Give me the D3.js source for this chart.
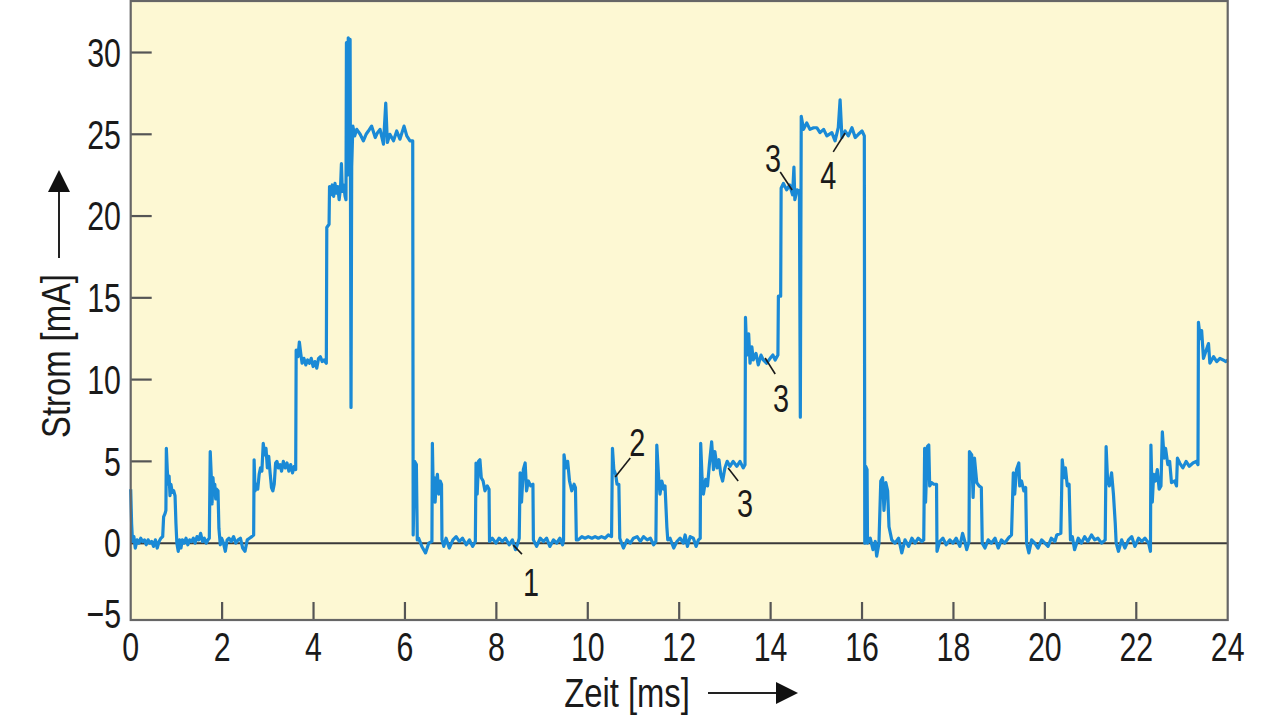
<!DOCTYPE html>
<html>
<head>
<meta charset="utf-8">
<script src="https://cdn.jsdelivr.net/npm/d3@7/dist/d3.min.js"></script>
<style>
  html, body { margin: 0; padding: 0; background: #ffffff; }
  svg { display: block; }
  text { font-family: "Liberation Sans Narrow", "Liberation Sans", "DejaVu Sans", sans-serif; fill: #1a1a1a; }
</style>
</head>
<body>
<svg id="chart" width="1280" height="721"></svg>
<script>
// ---- Data ----
const zeitMs = [
  0.00, 0.02, 0.04, 0.07, 0.10, 0.14, 0.18, 0.22, 0.26, 0.30,
  0.34, 0.38, 0.42, 0.46, 0.50, 0.54, 0.58, 0.62, 0.66, 0.70,
  0.72, 0.75, 0.77, 0.78, 0.80, 0.82, 0.84, 0.86, 0.88, 0.91,
  0.94, 0.97, 0.99, 1.01, 1.04, 1.07, 1.10, 1.13, 1.17, 1.21,
  1.25, 1.29, 1.33, 1.37, 1.41, 1.45, 1.49, 1.53, 1.57, 1.61,
  1.65, 1.69, 1.72, 1.74, 1.76, 1.78, 1.80, 1.82, 1.84, 1.86,
  1.88, 1.91, 1.93, 1.96, 1.99, 2.03, 2.07, 2.11, 2.15, 2.20,
  2.25, 2.30, 2.35, 2.40, 2.45, 2.50, 2.55, 2.60, 2.65, 2.69,
  2.70, 2.72, 2.75, 2.78, 2.81, 2.84, 2.87, 2.90, 2.93, 2.96,
  2.99, 3.02, 3.05, 3.08, 3.11, 3.14, 3.17, 3.20, 3.23, 3.27,
  3.30, 3.34, 3.38, 3.42, 3.46, 3.50, 3.54, 3.58, 3.61, 3.62,
  3.66, 3.69, 3.72, 3.75, 3.79, 3.83, 3.87, 3.91, 3.95, 3.99,
  4.03, 4.07, 4.11, 4.15, 4.19, 4.23, 4.28, 4.29, 4.34, 4.35,
  4.38, 4.41, 4.44, 4.47, 4.50, 4.53, 4.56, 4.59, 4.61, 4.63,
  4.66, 4.69, 4.71, 4.72, 4.74, 4.76, 4.78, 4.80, 4.82, 4.835,
  4.86, 4.90, 4.945, 5.02, 5.09, 5.15, 5.20, 5.27, 5.35, 5.40,
  5.455, 5.53, 5.58, 5.615, 5.67, 5.75, 5.82, 5.89, 5.98, 6.04,
  6.11, 6.17, 6.18, 6.21, 6.25, 6.27, 6.30, 6.37, 6.45, 6.52,
  6.59, 6.60, 6.62, 6.64, 6.66, 6.68, 6.71, 6.74, 6.77, 6.80,
  6.81, 6.85, 6.90, 6.97, 7.05, 7.12, 7.19, 7.26, 7.34, 7.41,
  7.48, 7.54, 7.555, 7.58, 7.61, 7.64, 7.67, 7.71, 7.75, 7.80,
  7.84, 7.85, 7.91, 7.99, 8.06, 8.13, 8.20, 8.28, 8.35, 8.42,
  8.47, 8.50, 8.52, 8.55, 8.59, 8.63, 8.66, 8.70, 8.75, 8.80,
  8.81, 8.88, 8.96, 9.03, 9.10, 9.17, 9.25, 9.32, 9.39, 9.45,
  9.47, 9.48, 9.52, 9.56, 9.60, 9.65, 9.70, 9.73, 9.75, 9.79,
  9.87, 9.94, 10.01, 10.09, 10.16, 10.23, 10.30, 10.38, 10.45, 10.52,
  10.54, 10.57, 10.61, 10.64, 10.68, 10.70, 10.78, 10.86, 10.93, 11.00,
  11.08, 11.15, 11.22, 11.30, 11.37, 11.44, 11.49, 11.51, 11.55, 11.58,
  11.62, 11.66, 11.69, 11.73, 11.75, 11.80, 11.88, 11.95, 12.02, 12.09,
  12.13, 12.18, 12.24, 12.31, 12.37, 12.42, 12.46, 12.47, 12.50, 12.53,
  12.58, 12.62, 12.66, 12.71, 12.75, 12.78, 12.83, 12.87, 12.91, 12.95,
  13.00, 13.05, 13.11, 13.18, 13.26, 13.33, 13.40, 13.44, 13.45, 13.48,
  13.52, 13.55, 13.59, 13.62, 13.68, 13.73, 13.79, 13.84, 13.91, 13.99,
  14.05, 14.10, 14.16, 14.17, 14.22, 14.23, 14.28, 14.35, 14.42, 14.48,
  14.51, 14.53, 14.58, 14.63, 14.65, 14.67, 14.72, 14.79, 14.86, 14.94,
  15.01, 15.08, 15.16, 15.23, 15.34, 15.41, 15.48, 15.52, 15.56, 15.63,
  15.70, 15.78, 15.85, 15.92, 16.00, 16.05, 16.06, 16.08, 16.11, 16.12,
  16.18, 16.24, 16.29, 16.32, 16.37, 16.41, 16.45, 16.48, 16.52, 16.56,
  16.59, 16.65, 16.72, 16.80, 16.87, 16.94, 17.02, 17.09, 17.16, 17.23,
  17.31, 17.35, 17.37, 17.39, 17.43, 17.46, 17.48, 17.52, 17.57, 17.63,
  17.64, 17.70, 17.77, 17.84, 17.92, 17.99, 18.06, 18.14, 18.20, 18.24,
  18.29, 18.34, 18.35, 18.40, 18.43, 18.46, 18.51, 18.56, 18.61, 18.63,
  18.69, 18.76, 18.83, 18.91, 18.98, 19.05, 19.12, 19.20, 19.27, 19.31,
  19.34, 19.38, 19.43, 19.45, 19.49, 19.54, 19.58, 19.60, 19.65, 19.71,
  19.78, 19.85, 19.93, 20.00, 20.07, 20.14, 20.22, 20.26, 20.35, 20.38,
  20.42, 20.45, 20.49, 20.53, 20.56, 20.60, 20.65, 20.73, 20.80, 20.87,
  20.94, 21.02, 21.09, 21.16, 21.24, 21.32, 21.34, 21.37, 21.41, 21.46,
  21.50, 21.54, 21.56, 21.61, 21.68, 21.75, 21.83, 21.90, 21.97, 22.05,
  22.12, 22.19, 22.27, 22.31, 22.32, 22.35, 22.38, 22.42, 22.46, 22.50,
  22.54, 22.57, 22.61, 22.64, 22.69, 22.73, 22.77, 22.84, 22.88, 22.90,
  22.95, 23.02, 23.09, 23.16, 23.24, 23.31, 23.35, 23.36, 23.40, 23.43,
  23.47, 23.53, 23.58, 23.61, 23.69, 23.76, 23.83, 23.90, 23.96, 24.00
];
const stromMA = [
  3.3, 1.2, 0.1, 0.4, -0.3, 0.2, 0.0, 0.3, 0.1, 0.2,
  -0.1, 0.2, 0.0, 0.1, -0.2, 0.2, -0.3, 0.1, 0.3, 0.4,
  1.6, 1.8, 2.0, 5.8, 4.5, 3.6, 4.1, 2.9, 3.6, 3.1,
  3.2, 2.9, 1.2, 0.0, -0.5, 0.2, -0.3, 0.2, 0.0, 0.3,
  -0.1, 0.2, 0.1, 0.3, 0.0, 0.4, 0.2, 0.6, 0.1, 0.3,
  0.0, 0.2, 0.3, 5.6, 4.3, 2.4, 4.0, 3.2, 3.6, 2.7,
  3.3, 3.2, 0.9, -0.1, 0.3, 0.0, -0.5, 0.2, 0.3, 0.1,
  0.4, 0.0, 0.2, 0.3, -0.3, -0.5, 0.2, 0.3, 0.4, 0.5,
  5.1, 3.2, 3.6, 3.3, 4.2, 4.6, 4.4, 6.1, 5.4, 5.8,
  4.6, 5.3, 4.3, 3.4, 3.2, 3.6, 4.9, 5.0, 4.6, 4.8,
  4.4, 5.0, 4.6, 4.9, 4.4, 4.8, 4.3, 4.7, 4.5, 11.8,
  11.4, 12.3, 11.6, 11.0, 11.3, 10.9, 11.2, 11.0, 11.3, 10.8,
  11.1, 10.7, 11.3, 11.4, 11.1, 11.2, 11.0, 19.3, 19.5, 21.8,
  21.3, 21.9, 21.2, 22.0, 21.4, 21.8, 21.0, 21.7, 23.2, 21.5,
  21.9, 21.2, 21.0, 30.6, 22.5, 30.9, 28.0, 30.8, 8.3, 23.0,
  25.5, 24.9, 25.3, 25.0, 24.6, 25.0, 25.2, 25.5, 24.8, 25.1,
  25.3, 24.4, 26.9, 24.5, 25.0, 24.6, 25.2, 24.7, 25.5, 24.9,
  24.6, 24.6, 0.5, 5.0, 4.8, 0.2, 0.3, -0.2, -0.6, 0.0,
  0.1, 6.1, 3.0, 4.0, 2.5, 3.5, 4.2, 3.0, 3.8, 3.6,
  0.2, -0.2, 0.3, -0.3, 0.2, 0.4, 0.1, 0.3, -0.1, 0.2,
  -0.2, 0.1, 4.9, 3.0, 5.0, 5.1, 4.0, 3.8, 3.2, 3.5,
  3.3, 0.1, 0.3, 0.0, 0.3, 0.1, 0.3, -0.1, 0.2, -0.4,
  0.0, 0.3, 4.3, 2.5, 4.5, 4.9, 3.2, 3.8, 3.5, 3.6,
  0.2, -0.2, 0.3, 0.1, 0.3, -0.2, 0.2, 0.0, 0.3, -0.1,
  0.2, 5.4, 4.6, 5.0, 3.8, 3.2, 3.6, 3.4, 0.2, 0.2,
  0.4, 0.3, 0.4, 0.3, 0.4, 0.3, 0.4, 0.3, 0.5, 0.4,
  5.8, 4.5, 4.2, 3.6, 3.6, 0.3, -0.3, 0.2, 0.0, 0.3,
  0.4, 0.1, 0.4, 0.2, 0.3, -0.1, 0.1, 6.0, 4.0, 3.0,
  3.8, 3.3, 3.5, 1.0, 0.2, 0.3, -0.3, 0.1, 0.3, 0.0,
  0.5, -0.2, 0.4, 0.3, -0.2, 0.2, 0.3, 6.1, 4.0, 3.0,
  3.9, 3.5, 4.8, 6.2, 4.5, 5.6, 4.6, 5.1, 4.2, 3.8,
  4.6, 5.0, 4.7, 5.0, 4.7, 5.0, 4.6, 4.8, 13.8, 11.5,
  12.8, 11.0, 12.0, 11.2, 11.6, 10.9, 11.5, 11.2, 11.0, 11.3,
  11.5, 11.2, 11.5, 15.1, 15.1, 21.7, 22.0, 21.6, 21.9, 21.3,
  23.0, 21.0, 21.6, 21.5, 7.7, 26.1, 25.3, 25.7, 25.3, 25.4,
  25.4, 25.1, 25.3, 24.9, 25.1, 24.6, 25.4, 27.1, 24.8, 25.2,
  24.9, 25.4, 24.8, 25.0, 25.2, 24.9, 0.0, 4.7, 4.5, 0.0,
  0.3, -0.4, 0.1, -0.8, 0.0, 3.8, 4.0, 2.0, 3.7, 3.2,
  1.0, 0.2, 0.0, 0.3, -0.6, 0.2, -0.2, 0.3, 0.0, 0.3,
  0.1, 0.2, 5.8, 2.5, 5.9, 6.0, 3.5, 3.7, 3.6, 3.6,
  -0.5, 0.1, 0.3, -0.1, 0.2, 0.0, 0.3, -0.2, 0.6, 0.2,
  -0.4, 0.1, 5.6, 5.4, 2.8, 5.2, 3.7, 3.5, 3.4, 0.0,
  -0.3, 0.2, 0.0, 0.3, -0.3, 0.2, 0.0, 0.3, 0.5, 4.3,
  3.0, 4.5, 4.9, 3.5, 3.8, 3.2, 3.4, 0.0, -0.6, 0.2,
  0.0, -0.3, 0.2, 0.0, -0.2, 0.3, 0.1, 0.5, 0.6, 5.1,
  4.0, 4.6, 3.5, 3.6, 0.2, 0.4, -0.4, 0.3, 0.0, 0.4,
  0.1, 0.5, 0.2, 0.3, 0.0, 0.2, 5.9, 4.0, 3.5, 4.3,
  3.0, 1.2, 0.0, -0.5, 0.2, -0.3, 0.2, 0.4, -0.2, 0.3,
  0.1, 0.3, 0.0, -0.5, 6.0, 2.5, 4.2, 3.8, 4.5, 3.3,
  3.5, 6.8, 5.2, 5.8, 4.8, 5.0, 3.7, 3.8, 3.5, 5.2,
  4.9, 4.6, 5.0, 4.7, 4.9, 5.0, 4.8, 13.5, 12.5, 13.0,
  11.3, 11.8, 12.2, 11.0, 11.4, 11.1, 11.3, 11.2, 11.1, 11.2
];

const xTicks = [0, 2, 4, 6, 8, 10, 12, 14, 16, 18, 20, 22, 24];
const yTicks = [-5, 0, 5, 10, 15, 20, 25, 30];

// Annotations: label text, label position, leader start/end (data units)
const annoLabels = ["1", "2", "3", "3", "3", "4"];
const annoTextT  = [8.76, 11.08, 13.44, 14.23, 14.05, 15.26];
const annoTextV  = [-2.38, 6.18, 2.45, 8.87, 23.55, 22.51];
const annoFromT  = [8.37, 10.93, 13.29, 14.10, 14.21, 15.37];
const annoFromV  = [-0.12, 5.2, 3.8, 10.34, 22.69, 23.92];
const annoToT    = [8.56, 10.60, 13.07, 13.88, 14.47, 15.63];
const annoToV    = [-0.67, 4.04, 4.59, 11.32, 21.59, 25.08];

(function () {
  const svg = d3.select("#chart");
  const pLeft = 130.7, pRight = 1227.7, pTop = 1, pBottom = 620;

  const x = d3.scaleLinear().domain([0, 24]).range([pLeft, pRight]);
  const y = d3.scaleLinear().domain([-4.7, 33.15]).range([pBottom, pTop]);

  const FONT = 41;
  const SX = 0.74;      // condensed digits
  const SXT = 0.8;      // condensed titles

  // condensed text helper
  function ctext(g, px, py, str, anchor, sx, size, rot) {
    return g.append("text")
      .attr("transform", `translate(${px},${py})` + (rot ? ` rotate(${rot})` : "") + ` scale(${sx},1)`)
      .attr("text-anchor", anchor)
      .attr("dy", "0.35em")
      .attr("font-size", size)
      .text(str);
  }

  // plot background
  svg.append("rect")
    .attr("x", pLeft).attr("y", pTop)
    .attr("width", pRight - pLeft).attr("height", pBottom - pTop)
    .attr("fill", "#fdf8d3");

  // y ticks (inward)
  svg.append("g").selectAll("line")
    .data(yTicks.filter(v => v > -4.7))
    .join("line")
    .attr("x1", pLeft).attr("x2", pLeft + 21)
    .attr("y1", d => y(d)).attr("y2", d => y(d))
    .attr("stroke", "#555").attr("stroke-width", 2.2);

  // x ticks (inward, upward)
  svg.append("g").selectAll("line")
    .data(xTicks.filter(t => t > 0 && t < 24))
    .join("line")
    .attr("x1", d => x(d)).attr("x2", d => x(d))
    .attr("y1", pBottom).attr("y2", pBottom - 18)
    .attr("stroke", "#555").attr("stroke-width", 2.2);

  // zero line
  svg.append("line")
    .attr("x1", x(0)).attr("x2", x(24))
    .attr("y1", y(0)).attr("y2", y(0))
    .attr("stroke", "#3a3a3a").attr("stroke-width", 2);

  // signal line
  const pts = zeitMs.map((t, i) => [t, stromMA[i]]);
  const line = d3.line().x(d => x(d[0])).y(d => y(d[1]));
  svg.append("path")
    .datum(pts)
    .attr("d", line)
    .attr("fill", "none")
    .attr("stroke", "#1a8ad6")
    .attr("stroke-width", 3.2)
    .attr("stroke-linejoin", "round");

  // frame
  svg.append("rect")
    .attr("x", pLeft).attr("y", pTop)
    .attr("width", pRight - pLeft).attr("height", pBottom - pTop)
    .attr("fill", "none")
    .attr("stroke", "#666").attr("stroke-width", 2.2);

  // y tick labels
  const gy = svg.append("g");
  yTicks.forEach(d => {
    ctext(gy, 121, Math.min(y(d), 614), d < 0 ? "\u2212" + Math.abs(d) : String(d), "end", SX, FONT);
  });

  // x tick labels
  const gx = svg.append("g");
  xTicks.forEach(d => {
    ctext(gx, x(d), 647, String(d), "middle", SX, FONT);
  });

  // y axis title + arrow
  ctext(svg, 56, 356, "Strom [mA]", "middle", SXT, FONT, -90);
  svg.append("line")
    .attr("x1", 59).attr("x2", 59).attr("y1", 258).attr("y2", 188)
    .attr("stroke", "#222").attr("stroke-width", 2);
  svg.append("path")
    .attr("d", "M59,170 L70,192 L48,192 Z")
    .attr("fill", "#111");

  // x axis title + arrow
  ctext(svg, 627, 693, "Zeit [ms]", "middle", SXT, FONT);
  svg.append("line")
    .attr("x1", 708).attr("x2", 780).attr("y1", 693).attr("y2", 693)
    .attr("stroke", "#222").attr("stroke-width", 2);
  svg.append("path")
    .attr("d", "M798,693 L776,682 L776,704 Z")
    .attr("fill", "#111");

  // annotations
  const ann = svg.append("g");
  annoLabels.forEach((lab, i) => {
    ann.append("line")
      .attr("x1", x(annoFromT[i])).attr("y1", y(annoFromV[i]))
      .attr("x2", x(annoToT[i])).attr("y2", y(annoToV[i]))
      .attr("stroke", "#1a1a1a").attr("stroke-width", 1.6);
    ctext(ann, x(annoTextT[i]), y(annoTextV[i]), lab, "middle", SX, FONT - 2);
  });
})();
</script>
</body>
</html>
